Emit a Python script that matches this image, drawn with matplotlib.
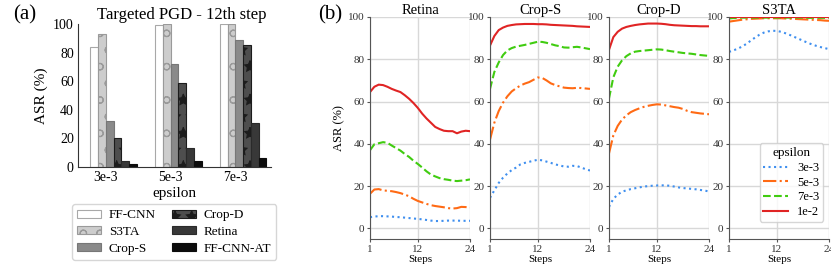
import numpy as np
import matplotlib
matplotlib.use("Agg")
import matplotlib.pyplot as plt

plt.rcParams['font.family'] = ['Liberation Serif', 'DejaVu Serif']
plt.rcParams['hatch.linewidth'] = 0.8

# ---------------- data (a) ----------------
eps_bar = ['3e-3', '5e-3', '7e-3']
models = ['FF-CNN', 'S3TA', 'Crop-S', 'Crop-D', 'Retina', 'FF-CNN-AT']
asr_bar = {
    'FF-CNN':    [84, 99, 100],
    'S3TA':      [93, 100, 100],
    'Crop-S':    [32, 72, 88.5],
    'Crop-D':    [20, 59, 85],
    'Retina':    [4.5, 13, 31],
    'FF-CNN-AT': [2, 4, 6.5],
}

# ---------------- data (b) ----------------
steps = list(range(1, 25))
eps_line = ['3e-3', '5e-3', '7e-3', '1e-2']
retina = {
    '3e-3': [5.3, 5.6, 5.8, 5.8, 5.7, 5.6, 5.4, 5.3, 5.1, 4.9, 4.7, 4.5,
             4.3, 4.0, 3.7, 3.5, 3.5, 3.6, 3.7, 3.7, 3.7, 3.6, 3.6, 3.6],
    '5e-3': [16.4, 18.4, 18.6, 18.0, 17.8, 17.6, 17.2, 16.7, 16.0, 15.2, 14.0, 13.0,
             12.3, 11.6, 11.0, 10.6, 10.3, 10.0, 9.6, 9.4, 9.6, 10.2, 10.1, 9.9],
    '7e-3': [37.0, 39.8, 40.3, 40.8, 40.5, 39.2, 38.0, 36.8, 35.2, 33.8, 32.0, 30.5,
             28.8, 27.0, 25.5, 24.6, 23.8, 23.3, 23.0, 22.6, 22.4, 22.6, 22.8, 23.2],
    '1e-2': [64.5, 67.0, 68.0, 67.8, 67.0, 66.0, 65.2, 64.5, 63.0, 61.3, 59.3, 57.0,
             54.3, 52.0, 50.0, 48.0, 47.0, 46.2, 46.0, 46.0, 45.0, 45.8, 46.2, 46.0],
}
crop_s = {
    '3e-3': [14.5, 18.0, 21.5, 24.0, 26.0, 27.6, 28.8, 30.3, 31.0, 31.5, 32.0, 32.5,
             32.2, 31.6, 31.0, 30.3, 29.8, 29.3, 29.2, 29.6, 29.5, 28.8, 28.0, 27.4],
    '5e-3': [42.0, 50.0, 55.5, 59.5, 62.5, 64.8, 66.3, 67.6, 68.5, 69.2, 70.3, 71.4,
             71.2, 70.0, 68.6, 67.8, 67.2, 66.6, 66.4, 66.3, 66.5, 66.4, 66.2, 66.0],
    '7e-3': [66.0, 74.0, 78.5, 82.0, 84.2, 85.3, 86.0, 86.4, 86.8, 87.3, 87.8, 88.3,
             88.2, 87.8, 87.2, 86.6, 86.2, 85.6, 85.5, 85.7, 85.9, 85.6, 85.2, 84.8],
    '1e-2': [86.5, 91.0, 93.8, 95.0, 95.8, 96.2, 96.5, 96.6, 96.7, 96.7, 96.7, 96.6,
             96.6, 96.5, 96.3, 96.2, 96.1, 96.0, 95.9, 95.8, 95.6, 95.5, 95.4, 95.3],
}
crop_d = {
    '3e-3': [10.2, 14.0, 16.0, 17.4, 18.0, 18.6, 19.0, 19.4, 19.8, 20.0, 20.2, 20.3,
             20.4, 20.3, 20.2, 19.8, 19.4, 19.1, 18.9, 18.7, 18.5, 18.2, 17.9, 17.5],
    '5e-3': [35.5, 44.0, 48.5, 51.5, 53.5, 55.0, 56.0, 56.8, 57.5, 58.0, 58.4, 58.7,
             58.6, 58.2, 57.8, 57.4, 57.1, 56.5, 55.6, 55.0, 54.7, 54.4, 54.2, 54.0],
    '7e-3': [61.5, 71.5, 76.5, 79.5, 81.5, 82.8, 83.6, 83.9, 84.1, 84.3, 84.5, 84.7,
             84.6, 84.3, 83.9, 83.6, 83.3, 83.0, 82.8, 82.6, 82.3, 82.0, 81.8, 81.6],
    '1e-2': [84.5, 90.5, 93.0, 94.5, 95.3, 95.8, 96.2, 96.5, 96.7, 96.9, 96.9, 96.9,
             96.8, 96.6, 96.3, 96.1, 96.0, 95.9, 95.8, 95.7, 95.7, 95.6, 95.6, 95.6],
}
s3ta = {
    '3e-3': [83.5, 84.2, 85.0, 86.0, 87.3, 88.8, 90.3, 91.6, 92.6, 93.2, 93.5, 93.4,
             93.0, 92.3, 91.5, 90.6, 89.7, 88.8, 87.9, 87.1, 86.4, 85.8, 85.3, 84.8],
    '5e-3': [97.8, 98.1, 98.4, 98.7, 98.9, 99.1, 99.2, 99.3, 99.4, 99.4, 99.4, 99.4,
             99.4, 99.3, 99.2, 99.1, 99.0, 98.9, 98.8, 98.7, 98.6, 98.5, 98.3, 98.2],
    '7e-3': [99.3, 99.5, 99.6, 99.7, 99.7, 99.7, 99.7, 99.7, 99.7, 99.7, 99.7, 99.7,
             99.7, 99.7, 99.7, 99.7, 99.7, 99.7, 99.6, 99.6, 99.6, 99.6, 99.6, 99.6],
    '1e-2': [99.9] * 24,
}
panels = [('Retina', retina), ('Crop-S', crop_s), ('Crop-D', crop_d), ('S3TA', s3ta)]

# ---------------- styles ----------------
bar_style = {
    'FF-CNN':    dict(color='white', edgecolor='#a8a8a8', hatch=None),
    'S3TA':      dict(color='#cdcdcd', edgecolor='#9a9a9a', hatch='o'),
    'Crop-S':    dict(color='#8a8a8a', edgecolor='#777777', hatch=None),
    'Crop-D':    dict(color='#4e4e4e', edgecolor='#1c1c1c', hatch='*'),
    'Retina':    dict(color='#383838', edgecolor='#2a2a2a', hatch=None),
    'FF-CNN-AT': dict(color='#0c0c0c', edgecolor='#0c0c0c', hatch=None),
}
line_style = {
    '3e-3': dict(color='#3f8fef', ls=':'),
    '5e-3': dict(color='#ff6a14', ls='-.'),
    '7e-3': dict(color='#40cc10', ls='--'),
    '1e-2': dict(color='#e02424', ls='-'),
}

W, H = 831, 269
fig = plt.figure(figsize=(W / 100, H / 100), dpi=100)

def box(l, t, r, b):
    return [l / W, 1 - b / H, (r - l) / W, (b - t) / H]

# ---------------- panel (a) ----------------
axa = fig.add_axes(box(78, 24, 271, 167))
x = np.arange(len(eps_bar))
w = 0.12
for i, m in enumerate(models):
    st = bar_style[m]
    axa.bar(x + (i - 2) * w, asr_bar[m], width=w, align='edge', label=m,
            color=st['color'], edgecolor=st['edgecolor'], hatch=st['hatch'], linewidth=0.8)
axa.set_xlim(-0.43, 2.55)
axa.set_ylim(0, 100)
axa.set_xticks(x)
axa.set_xticklabels(eps_bar)
axa.set_yticks(range(0, 101, 20))
axa.tick_params(labelsize=10, length=0, pad=3)
axa.set_xlabel('epsilon', fontsize=11, labelpad=2)
axa.set_ylabel('ASR (%)', fontsize=11, labelpad=4)
for s in ['top', 'right']:
    axa.spines[s].set_visible(False)
for s in ['left', 'bottom']:
    axa.spines[s].set_color('#333333')
    axa.spines[s].set_linewidth(0.8)
fig.text(182 / W, 1 - 15 / H, 'Targeted PGD - 12th step', ha='center', va='center', fontsize=12)
fig.text(25 / W, 1 - 15 / H, '(a)', ha='center', va='center', fontsize=15)

fig.legend(loc='lower left', bbox_to_anchor=(72 / W, 1 - 260 / H), ncol=2,
           fontsize=9.5, frameon=True, fancybox=True, edgecolor='#cccccc',
           handlelength=1.8, handleheight=0.55, columnspacing=1.2,
           labelspacing=0.35, borderpad=0.4, borderaxespad=0, handletextpad=0.6)

# ---------------- panel (b) ----------------
lefts = [370, 490, 609, 729]
for k, (name, data) in enumerate(panels):
    ax = fig.add_axes(box(lefts[k], 17, lefts[k] + 100, 239))
    for e in eps_line:
        ax.plot(steps, data[e], color=line_style[e]['color'], ls=line_style[e]['ls'],
                lw=1.5, label=e)
    ax.set_xlim(1, 24)
    ax.set_ylim(-5, 100)
    ax.set_xticks([1, 12, 24])
    ax.set_yticks(range(0, 101, 20))
    ax.grid(True, color='#d8d8d8', lw=1.0)
    ax.set_axisbelow(True)
    ax.tick_params(labelsize=8, length=2.5, pad=1.5, color='#555555', labelcolor='#333333')
    for s in ['top', 'right']:
        ax.spines[s].set_visible(False)
    for s in ['left', 'bottom']:
        ax.spines[s].set_color('#555555')
        ax.spines[s].set_linewidth(0.8)
    ax.set_title(name, fontsize=10.5, pad=2)
    ax.set_xlabel('Steps', fontsize=8, labelpad=1)
    if k == 0:
        ax.set_ylabel('ASR (%)', fontsize=9, labelpad=2)
    if k == 3:
        ax.legend(title='epsilon', loc='lower right', bbox_to_anchor=(0.94, 0.077),
                  fontsize=9, title_fontsize=9.5, handlelength=2.0, labelspacing=0.22,
                  borderpad=0.3, handletextpad=0.7, borderaxespad=0, edgecolor='#cccccc')
fig.text(330 / W, 1 - 15 / H, '(b)', ha='center', va='center', fontsize=15)

fig.savefig('out.png', dpi=100)
